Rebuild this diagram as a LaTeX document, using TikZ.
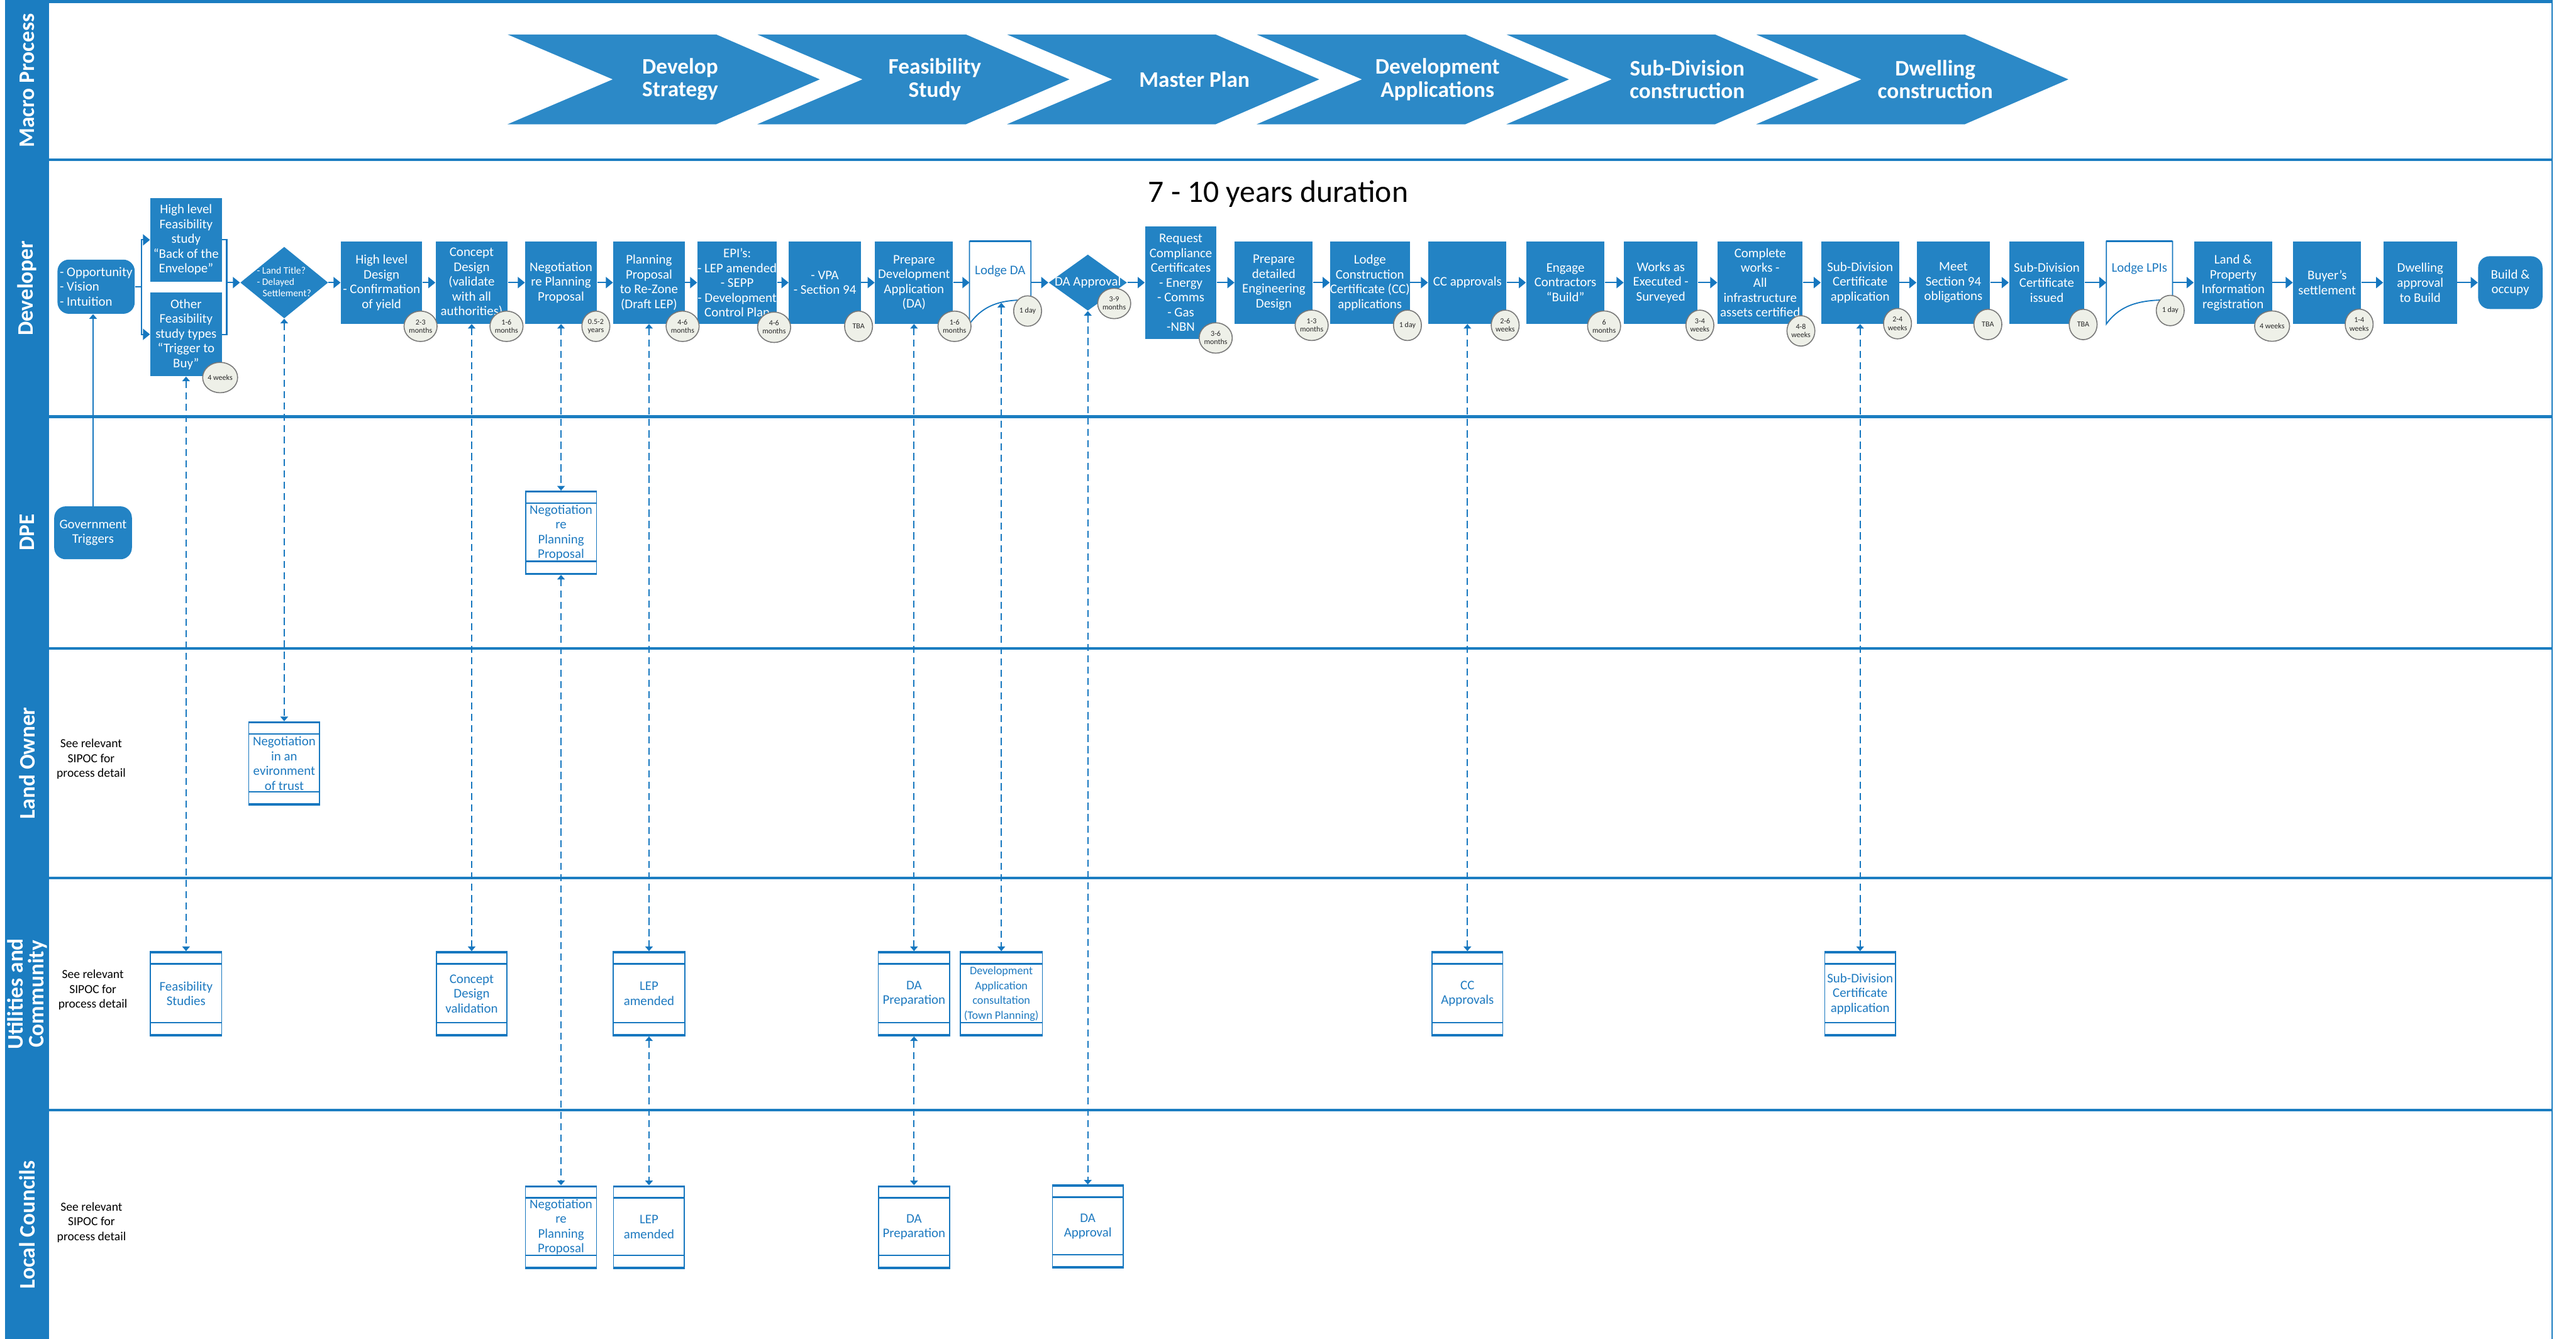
\documentclass[tikz,border=0pt]{standalone}
\usepackage{fontspec}
\setmainfont{Carlito}
\usetikzlibrary{arrows.meta,shapes.geometric}

\definecolor{laneblue}{RGB}{27,125,193}
\definecolor{boxblue}{RGB}{35,131,196}
\definecolor{chevblue}{RGB}{44,137,199}
\definecolor{lineblue}{RGB}{22,119,191}
\definecolor{inkblue}{RGB}{30,122,192}
\definecolor{badgefill}{RGB}{238,240,232}
\definecolor{badgeline}{RGB}{120,120,120}
\definecolor{badgeink}{RGB}{40,40,40}

\newcommand\bxfont{\fontsize{8}{9}\selectfont}
\newcommand\bdgfont{\fontsize{4.6}{5}\selectfont}
\newcommand\dmfont{\fontsize{6}{6.75}\selectfont}
\newcommand\lnfont{\fontsize{13.5}{12.5}\selectfont\bfseries}
\newcommand\mcfont{\fontsize{13.5}{14}\selectfont\bfseries}
\newcommand\ntfont{\fontsize{7.5}{9}\selectfont}
% one chevron of the macro process bar, #1 = left x
\newcommand\chevshape[1]{\fill[chevblue] (#1,21) -- ++(127,0) -- ++(63,27.3) -- ++(-63,27.3) -- ++(-127,0) -- ++(64,-27.3) -- cycle;}
% duration badge: name, x, y, text
\newcommand\badge[4]{\node[badge] (#1) at (#2,#3) {#4};}

\begin{document}
\begin{tikzpicture}[x=1pt,y=-1pt,
  stepbox/.style={fill=boxblue, text=white, font=\bxfont, align=center, inner sep=0pt, minimum height=50pt},
  endbox/.style={stepbox, rounded corners=7pt},
  gatebox/.style={diamond, fill=boxblue, inner sep=0pt},
  gatetext/.style={text=white, inner sep=0pt},
  docbox/.style={draw=none, inner sep=0pt, minimum height=50pt},
  docline/.style={draw=lineblue, line width=0.7pt, fill=white},
  doctext/.style={text=inkblue, font=\bxfont, inner sep=0pt},
  badge/.style={ellipse, fill=badgefill, draw=badgeline, line width=0.6pt, minimum width=17pt, minimum height=18.5pt, inner sep=0pt, font=\bdgfont, text=badgeink, align=center},
  flow/.style={draw=lineblue, line width=0.8pt, -{Triangle[length=4.3pt,width=6.8pt]}},
  flowline/.style={draw=lineblue, line width=0.8pt},
  xlink/.style={draw=lineblue, line width=0.65pt, dash pattern=on 4.3pt off 2.6pt, {Triangle[length=2.8pt,width=4.6pt]}-{Triangle[length=2.8pt,width=4.6pt]}},
  uplink/.style={draw=lineblue, line width=0.6pt, -{Triangle[length=2.8pt,width=4.6pt]}},
  lanebox/.style={draw=lineblue, line width=0.6pt, fill=white, text=inkblue, font=\bxfont, align=center, inner sep=0pt,
    path picture={
      \draw[lineblue, line width=1pt]
        ([yshift=-7.4pt]path picture bounding box.north west) -- ([yshift=-7.4pt]path picture bounding box.north east)
        ([yshift=8pt]path picture bounding box.south west) -- ([yshift=8pt]path picture bounding box.south east);
      \draw[lineblue, line width=2pt]
        (path picture bounding box.north west) -- (path picture bounding box.north east)
        (path picture bounding box.south west) -- (path picture bounding box.south east);}},
  lanelbl/.style={rotate=90, text=white, font=\lnfont, align=center, inner sep=0pt},
  macrotext/.style={text=white, font=\mcfont, align=center, inner sep=0pt},
  notetext/.style={font=\ntfont, align=center, inner sep=0pt},
  sep/.style={draw=laneblue, line width=1.6pt}]

\useasboundingbox (0,0) rectangle (1568,815);

% ---------- swimlane frame ----------
\fill[laneblue] (3,0) rectangle (30,815);
\draw[laneblue, line width=1.8pt] (3,1) -- (1553.5,1);
\draw[sep] (3,97.2) -- (1553.5,97.2);
\draw[sep] (3,253.6) -- (1553.5,253.6);
\draw[sep] (3,394.7) -- (1553.5,394.7);
\draw[sep] (3,534.4) -- (1553.5,534.4);
\draw[sep] (3,675.8) -- (1553.5,675.8);
\draw[laneblue, line width=0.6pt] (1553.5,0) -- (1553.5,815);

\node[lanelbl] (lmacro) at (16.5,49) {Macro Process};
\node[lanelbl] (ldev) at (16.5,175.5) {Developer};
\node[lanelbl] (ldpe) at (16.5,324) {DPE};
\node[lanelbl] (lown) at (16.5,464.5) {Land Owner};
\node[lanelbl] (lutil) at (16.5,605) {Utilities and\\Community};
\node[lanelbl] (lcoun) at (16.5,745.5) {Local Councils};

% ---------- macro process chevrons ----------
\chevshape{309}
\chevshape{461}
\chevshape{613}
\chevshape{765}
\chevshape{917}
\chevshape{1069}
\node[macrotext] (m1) at (414,48.3) {Develop\\Strategy};
\node[macrotext] (m2) at (569,48.3) {Feasibility\\Study};
\node[macrotext] (m3) at (727,48.3) {Master Plan};
\node[macrotext] (m4) at (875,48.3) {Development\\Applications};
\node[macrotext] (m5) at (1027,48.3) {Sub-Division\\construction};
\node[macrotext] (m6) at (1178,48.3) {Dwelling\\construction};

\node[font=\fontsize{19}{22}\selectfont, inner sep=0pt] (dur) at (778,118) {7 - 10 years duration};

% ---------- developer lane ----------
\node[endbox, minimum width=47pt, minimum height=33pt, align=left] (opp) at (58.5,174.5) {- Opportunity\\- Vision\\- Intuition};
\node[stepbox, minimum width=43.5pt, minimum height=51pt] (hlfs) at (113.25,146) {High level\\Feasibility\\study\\“Back of the\\Envelope”};
\node[stepbox, minimum width=43.5pt, minimum height=51pt] (ofs) at (113.25,203.5) {Other\\Feasibility\\study types\\“Trigger to\\Buy”};
\node[gatebox, minimum width=53.5pt, minimum height=43.6pt] (dia) at (173,172) {};
\node[gatetext, font=\dmfont, align=left] (diat) at (172.9,171.5) {- Land Title?\\- Delayed\\\hspace*{3.5pt}Settlement?};
\node[stepbox, minimum width=49.5pt] (hld) at (232.25,172) {High level\\Design\\- Confirmation\\of yield};
\node[stepbox, minimum width=43.8pt] (cd) at (287.1,172) {Concept\\Design\\(validate\\with all\\authorities)};
\node[stepbox, minimum width=43.6pt] (neg) at (341.5,172) {Negotiation\\re Planning\\Proposal};
\node[stepbox, minimum width=43.5pt] (pp) at (395.05,172) {Planning\\Proposal\\to Re-Zone\\(Draft LEP)};
\node[stepbox, minimum width=46pt] (epi) at (448.7,172) {EPI’s:\\- LEP amended\\- SEPP\\- Development\\Control Plan};
\node[stepbox, minimum width=43.8pt] (vpa) at (502.1,172) {- VPA\\- Section 94};
\node[stepbox, minimum width=47.5pt] (pda) at (556.35,172) {Prepare\\Development\\Application\\(DA)};
\node[docbox, minimum width=37pt] (lda) at (608.8,172) {};
\draw[docline] (lda.north west) -- (lda.south west) .. controls +(10,-14) and +(-14,0) .. ([yshift=-10.5pt]lda.east) -- (lda.north east) -- cycle;
\draw[lineblue, line width=1.5pt] (lda.north west) -- (lda.north east);
\node[doctext] (ldat) at ([yshift=7pt]lda.center) {Lodge DA};
\coordinate (ldab) at (609.5,184.3);
\node[gatebox, minimum width=47.7pt, minimum height=34.2pt] (daap) at (662.15,172) {};
\node[gatetext, font=\bxfont] (daapt) at (662.15,172) {DA Approval};
\node[stepbox, minimum width=43.5pt, minimum height=68.7pt] (rcc) at (718.75,172) {Request\\Compliance\\Certificates\\- Energy\\- Comms\\- Gas\\-NBN};
\node[stepbox, minimum width=47.5pt] (pde) at (775.35,172) {Prepare\\detailed\\Engineering\\Design};
\node[stepbox, minimum width=47.7pt] (lcc) at (833.85,172) {Lodge\\Construction\\Certificate (CC)\\applications};
\node[stepbox, minimum width=47.6pt] (cca) at (893.2,172) {CC approvals};
\node[stepbox, minimum width=47.7pt] (eng) at (952.85,172) {Engage\\Contractors\\“Build”};
\node[stepbox, minimum width=44.8pt] (wae) at (1010.9,172) {Works as\\Executed -\\Surveyed};
\node[stepbox, minimum width=51.8pt] (cw) at (1071.4,172) {Complete\\works -\\All\\infrastructure\\assets certified};
\node[stepbox, minimum width=47.5pt] (sdca) at (1132.25,172) {Sub-Division\\Certificate\\application};
\node[stepbox, minimum width=44.6pt] (s94) at (1189,172) {Meet\\Section 94\\obligations};
\node[stepbox, minimum width=45.9pt] (sdci) at (1245.85,172) {Sub-Division\\Certificate\\issued};
\node[docbox, minimum width=39.9pt] (lpi) at (1302.25,172) {};
\draw[docline] (lpi.north west) -- (lpi.south west) .. controls +(10,-14) and +(-15,0) .. ([yshift=-10.5pt]lpi.east) -- (lpi.north east) -- cycle;
\draw[lineblue, line width=1.5pt] (lpi.north west) -- (lpi.north east);
\node[doctext] (lpit) at ([yshift=8.5pt]lpi.center) {Lodge LPIs};
\node[stepbox, minimum width=47.5pt] (lpir) at (1359.25,172) {Land \&\\Property\\Information\\registration};
\node[stepbox, minimum width=41.4pt] (bs) at (1416.5,172) {Buyer’s\\settlement};
\node[stepbox, minimum width=44.7pt] (dab) at (1473.15,172) {Dwelling\\approval\\to Build};
\node[endbox, minimum width=39.2pt, minimum height=32.1pt] (bo) at (1528,172) {Build \&\\occupy};

% main flow
\coordinate (bra) at (86,174.5);
\coordinate (mrg) at (138,172);
\draw[flowline] (opp.east) -- (bra);
\draw[flow] (bra) |- (hlfs.west);
\draw[flow] (bra) |- (ofs.west);
\draw[flowline] (hlfs.east) -| (mrg);
\draw[flowline] (ofs.east) -| (mrg);
\draw[flow] (mrg) -- (dia.west);
\foreach \a/\b in {dia/hld, hld/cd, cd/neg, neg/pp, pp/epi, epi/vpa, vpa/pda, pda/lda, lda/daap, daap/rcc, rcc/pde, pde/lcc, lcc/cca, cca/eng, eng/wae, wae/cw, cw/sdca, sdca/s94, s94/sdci, sdci/lpi, lpi/lpir, lpir/bs, bs/dab, dab/bo}
  \draw[flow] (\a.east) -- (\b.west);

% durations
\badge{t1}{134}{229.8}{4 weeks}
\badge{t2}{256}{198.6}{2-3\\months}
\badge{t3}{308.3}{198.6}{1-6\\months}
\badge{t4}{362.7}{198.6}{0.5-2\\years}
\badge{t5}{415.5}{198.6}{4-6\\months}
\badge{t6}{471.2}{199.2}{4-6\\months}
\badge{t7}{522.6}{198.6}{TBA}
\badge{t8}{581}{198.6}{1-6\\months}
\badge{t9}{625.5}{189.3}{1 day}
\badge{t10}{678.2}{184.7}{3-9\\months}
\badge{t11}{740}{205.7}{3-6\\months}
\badge{t12}{798.4}{198}{1-3\\months}
\badge{t13}{856.7}{198}{1 day}
\badge{t14}{916.2}{198}{2-6\\weeks}
\badge{t15}{976.4}{198.5}{6\\months}
\badge{t16}{1034.7}{198}{3-4\\weeks}
\badge{t17}{1096.2}{201.4}{4-8\\weeks}
\badge{t18}{1155}{197}{2-4\\weeks}
\badge{t19}{1210}{197.5}{TBA}
\badge{t20}{1268}{197.5}{TBA}
\badge{t21}{1321}{189}{1 day}
\badge{t22}{1383}{198.5}{4 weeks}
\badge{t23}{1436}{197.4}{1-4\\weeks}

% ---------- DPE lane ----------
\node[endbox, minimum width=47.3pt, minimum height=32.2pt] (gov) at (56.65,324.3) {Government\\Triggers};
\draw[uplink] (gov.north) -- (gov.north |- opp.south);
\node[lanebox, minimum width=43.1pt, minimum height=50.7pt] (dneg) at (341.5,324.25) {Negotiation\\re\\Planning\\Proposal};

% ---------- land owner lane ----------
\node[notetext] (n1) at (55.5,462) {See relevant\\SIPOC for\\process detail};
\node[lanebox, minimum width=43.1pt, minimum height=50.7pt] (lneg) at (173,464.65) {Negotiation\\in an\\evironment\\of trust};

% ---------- utilities and community lane ----------
\node[notetext] (n2) at (56.5,602.5) {See relevant\\SIPOC for\\process detail};
\node[lanebox, minimum width=43.5pt, minimum height=51.3pt] (ufs) at (113.25,604.85) {Feasibility\\Studies};
\node[lanebox, minimum width=43pt, minimum height=51.3pt] (ucd) at (287.1,604.85) {Concept\\Design\\validation};
\node[lanebox, minimum width=43.5pt, minimum height=51.3pt] (ulep) at (395.05,604.85) {LEP\\amended};
\node[lanebox, minimum width=43.5pt, minimum height=51.3pt] (uda) at (556.35,604.85) {DA\\Preparation};
\node[lanebox, minimum width=50pt, minimum height=51.3pt, font=\fontsize{7}{9}\selectfont] (udac) at (609.5,604.85) {Development\\Application\\consultation\\(Town Planning)};
\node[lanebox, minimum width=43.1pt, minimum height=51.3pt] (ucc) at (893.2,604.85) {CC\\Approvals};
\node[lanebox, minimum width=43.2pt, minimum height=51.3pt] (usd) at (1132.25,604.85) {Sub-Division\\Certificate\\application};

% ---------- local councils lane ----------
\node[notetext] (n3) at (55.7,744) {See relevant\\SIPOC for\\process detail};
\node[lanebox, minimum width=43.2pt, minimum height=50.4pt] (lcneg) at (341.5,746.9) {Negotiation\\re\\Planning\\Proposal};
\node[lanebox, minimum width=43.1pt, minimum height=50.4pt] (lclep) at (395.05,746.9) {LEP\\amended};
\node[lanebox, minimum width=43.2pt, minimum height=50.4pt] (lcda) at (556.35,746.9) {DA\\Preparation};
\node[lanebox, minimum width=43.1pt, minimum height=50.4pt] (lcdaa) at (662.15,746.45) {DA\\Approval};

% ---------- cross-lane links ----------
\draw[xlink] (ofs.south) -- (ufs.north);
\draw[xlink] (dia.south) -- (lneg.north);
\draw[xlink] (cd.south) -- (ucd.north);
\draw[xlink] (neg.south) -- (dneg.north);
\draw[xlink] (dneg.south) -- (lcneg.north);
\draw[xlink] (pp.south) -- (ulep.north);
\draw[xlink] (ulep.south) -- (lclep.north);
\draw[xlink] (pda.south) -- (uda.north);
\draw[xlink] (uda.south) -- (lcda.north);
\draw[xlink] (ldab) -- (udac.north);
\draw[xlink] (daap.south) -- (lcdaa.north);
\draw[xlink] (cca.south) -- (ucc.north);
\draw[xlink] (sdca.south) -- (usd.north);

\end{tikzpicture}
\end{document}
